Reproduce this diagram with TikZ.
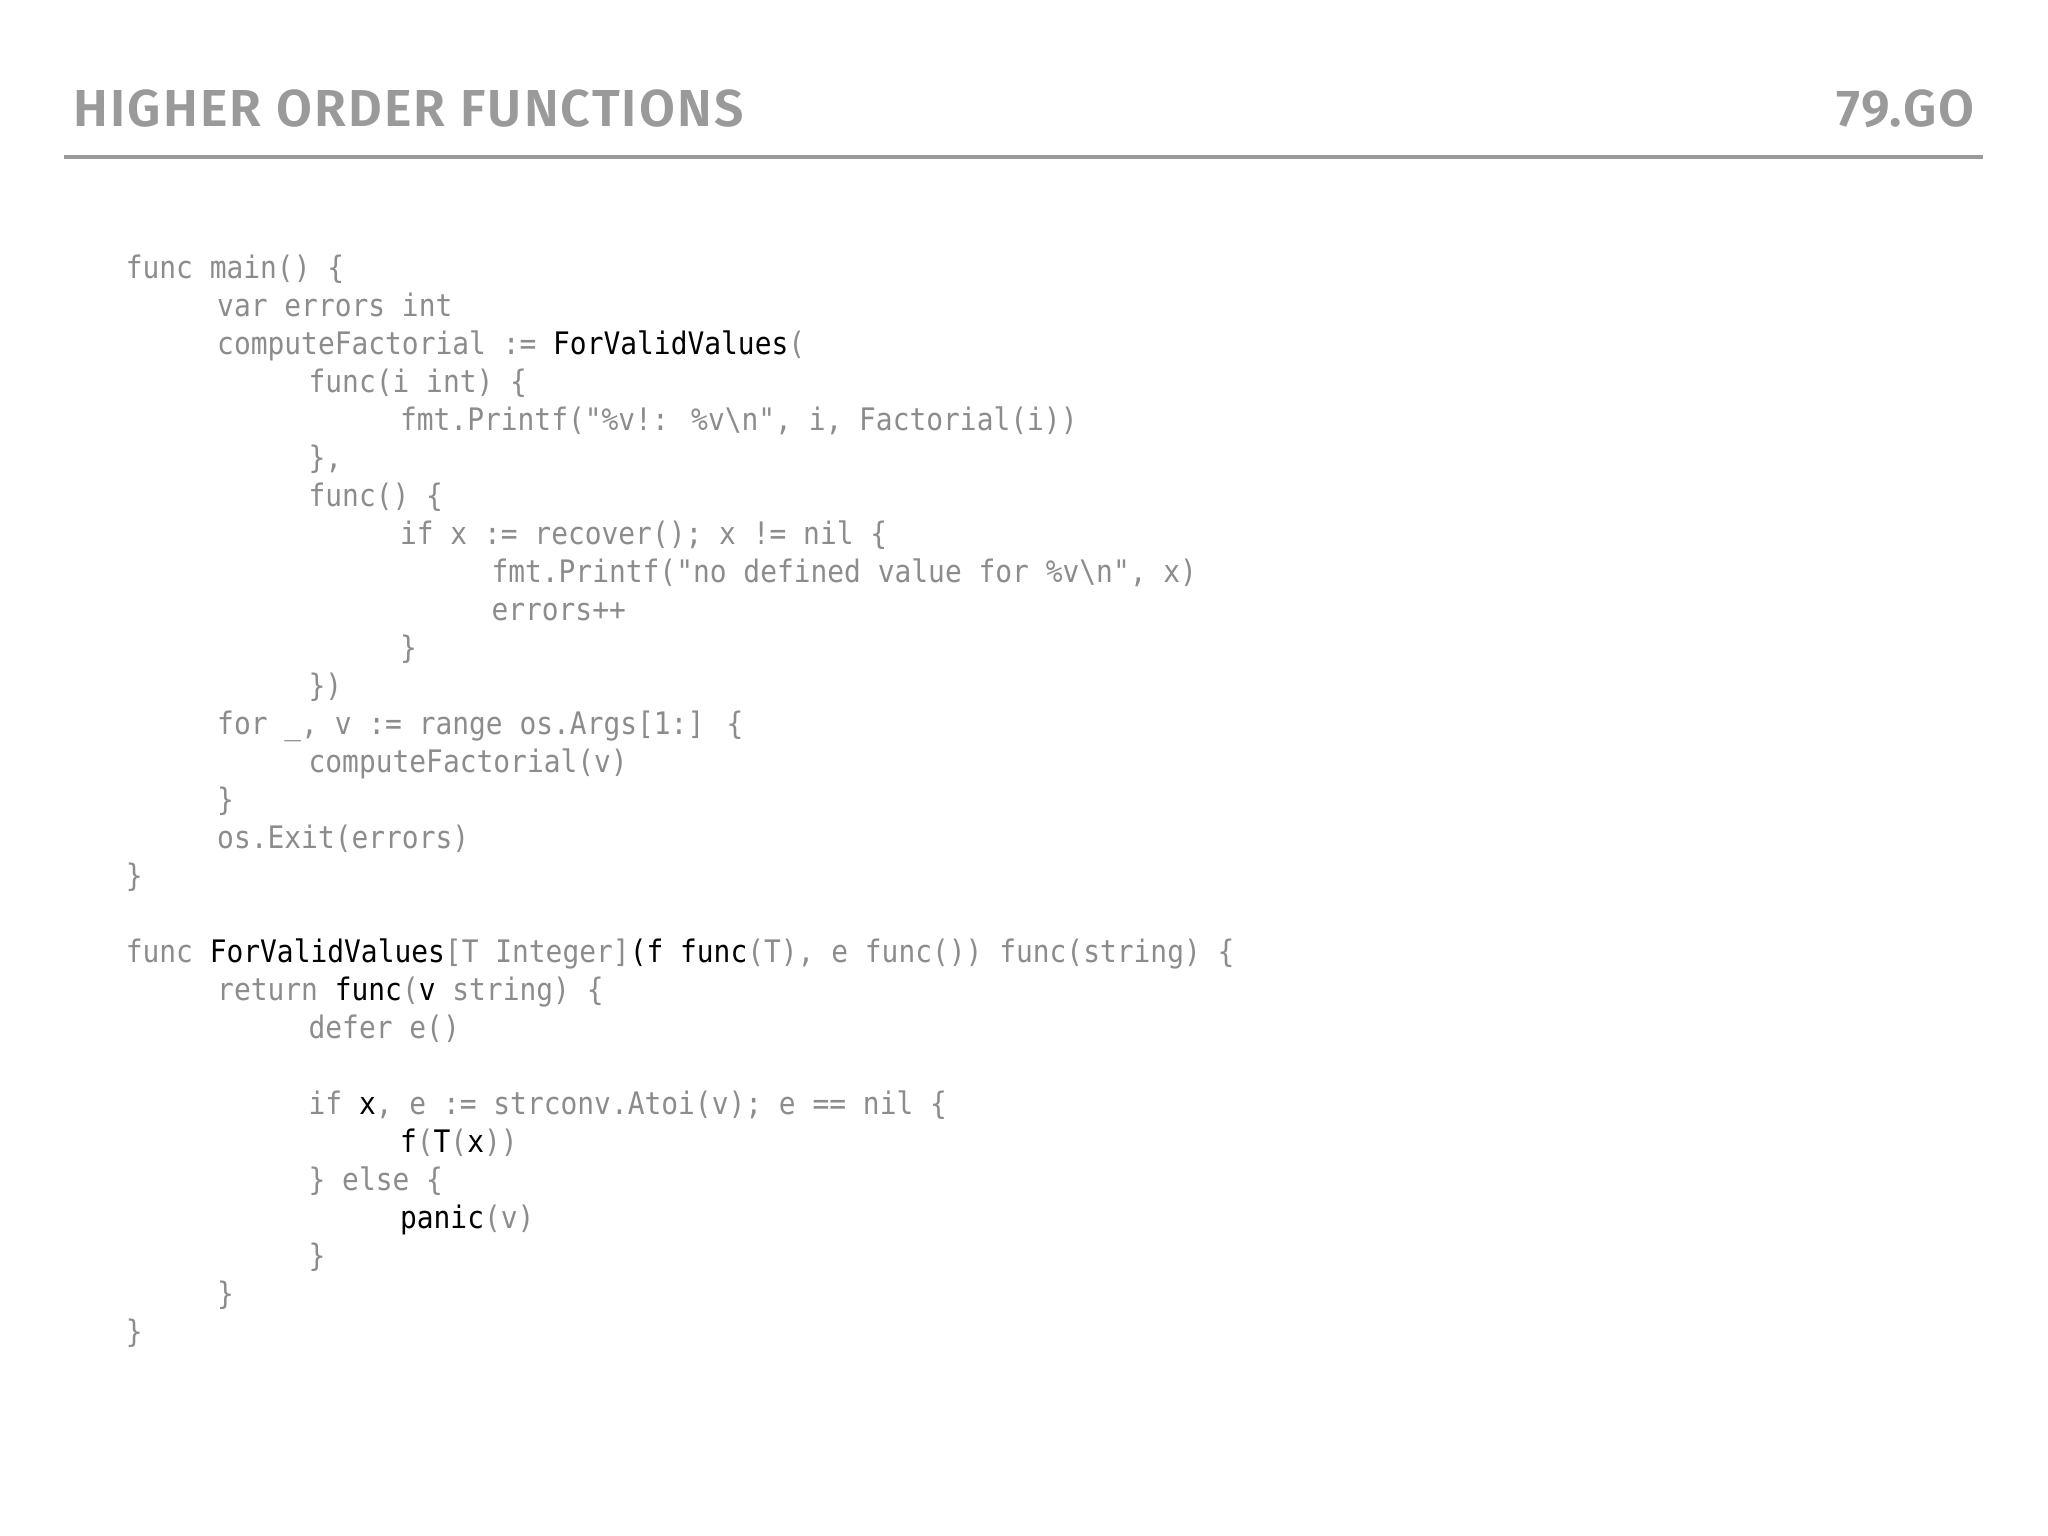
\documentclass[tikz,border=0pt]{standalone}
\usepackage{fontspec}
\newfontfamily\codefont[FakeStretch=0.9]{DejaVu Sans Mono}
\newfontfamily\titlefont[LetterSpace=4]{Fira Sans SemiBold}
\definecolor{codegray}{HTML}{8C8C8C}
\definecolor{titlegray}{HTML}{9A9A9A}
\newcommand{\blk}[1]{\textcolor{black}{#1}}
\begin{document}
\begin{tikzpicture}[x=0.653pt,y=-0.653pt,
  code/.style={anchor=base west,inner sep=0pt,text=codegray,font=\codefont\fontsize{15.5}{18}\selectfont},
  ttl/.style={inner sep=0pt,text=titlegray,font=\titlefont\fontsize{26}{30}\selectfont}]
\useasboundingbox (0,0) rectangle (1568,1176);
\node[ttl,anchor=base west] (title) at (56,97) {HIGHER ORDER FUNCTIONS};
\node[ttl,anchor=base east] (num) at (1512,97) {79.GO};
\coordinate (la) at (49,120); \coordinate (lb) at (1518,120);
\draw[titlegray,line width=2pt] (la) -- (lb);
\def\L#1#2#3{\node[code] (c#1) at ({96+70*#2},{213+29.1*#1}) {#3};}
\L{0}{0}{func main() \{}
\L{1}{1}{var errors int}
\L{2}{1}{computeFactorial := \blk{ForValidValues}(}
\L{3}{2}{func(i int) \{}
\L{4}{3}{fmt.Printf("\%v!: \%v\textbackslash n", i, Factorial(i))}
\L{5}{2}{\},}
\L{6}{2}{func() \{}
\L{7}{3}{if x := recover(); x != nil \{}
\L{8}{4}{fmt.Printf("no defined value for \%v\textbackslash n", x)}
\L{9}{4}{errors++}
\L{10}{3}{\}}
\L{11}{2}{\})}
\L{12}{1}{for \_, v := range os.Args[1:] \{}
\L{13}{2}{computeFactorial(v)}
\L{14}{1}{\}}
\L{15}{1}{os.Exit(errors)}
\L{16}{0}{\}}
\L{18}{0}{func \blk{ForValidValues}[T Integer]\blk{(f func}(T), e func()) func(string) \{}
\L{19}{1}{return \blk{func}(\blk{v} string) \{}
\L{20}{2}{defer e()}
\L{22}{2}{if \blk{x}, e := strconv.Atoi(v); e == nil \{}
\L{23}{3}{\blk{f}(\blk{T}(\blk{x}))}
\L{24}{2}{\} else \{}
\L{25}{3}{\blk{panic}(v)}
\L{26}{2}{\}}
\L{27}{1}{\}}
\L{28}{0}{\}}
\end{tikzpicture}
\end{document}
